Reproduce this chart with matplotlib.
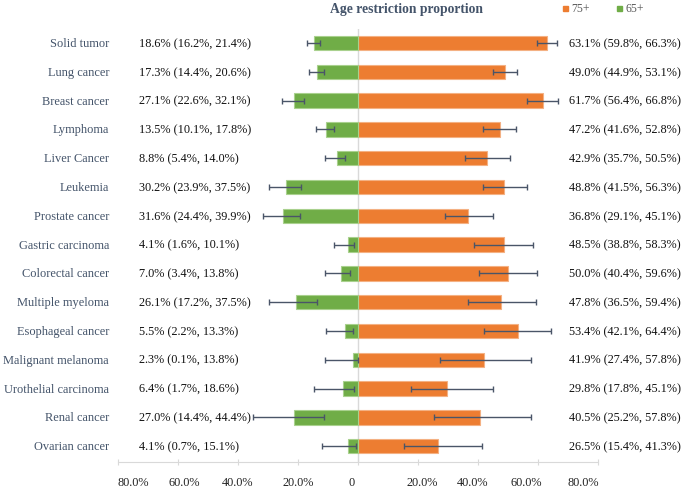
import numpy as np
import matplotlib
matplotlib.use('Agg')
import matplotlib.pyplot as plt
import matplotlib.transforms as mtransforms
from matplotlib.patches import Rectangle

plt.rcParams['font.family'] = ['Liberation Serif', 'DejaVu Serif']

# Data
cancers = ['Solid tumor', 'Lung cancer', 'Breast cancer', 'Lymphoma', 'Liver Cancer',
           'Leukemia', 'Prostate cancer', 'Gastric carcinoma', 'Colorectal cancer',
           'Multiple myeloma', 'Esophageal cancer', 'Malignant melanoma',
           'Urothelial carcinoma', 'Renal cancer', 'Ovarian cancer']

age65 = np.array([18.6, 17.3, 27.1, 13.5, 8.8, 30.2, 31.6, 4.1, 7.0, 26.1, 5.5, 2.3, 6.4, 27.0, 4.1])
age65_lo = np.array([16.2, 14.4, 22.6, 10.1, 5.4, 23.9, 24.4, 1.6, 3.4, 17.2, 2.2, 0.1, 1.7, 14.4, 0.7])
age65_hi = np.array([21.4, 20.6, 32.1, 17.8, 14.0, 37.5, 39.9, 10.1, 13.8, 37.5, 13.3, 13.8, 18.6, 44.4, 15.1])

age75 = np.array([63.1, 49.0, 61.7, 47.2, 42.9, 48.8, 36.8, 48.5, 50.0, 47.8, 53.4, 41.9, 29.8, 40.5, 26.5])
age75_lo = np.array([59.8, 44.9, 56.4, 41.6, 35.7, 41.5, 29.1, 38.8, 40.4, 36.5, 42.1, 27.4, 17.8, 25.2, 15.4])
age75_hi = np.array([66.3, 53.1, 66.8, 52.8, 50.5, 56.3, 45.1, 58.3, 59.6, 59.4, 64.4, 57.8, 45.1, 57.8, 41.3])

tick_vals = [-80, -60, -40, -20, 0, 20, 40, 60, 80]
tick_labels = ['80.0%', '60.0%', '40.0%', '20.0%', '0', '20.0%', '40.0%', '60.0%', '80.0%']

ORANGE = '#ED7D31'
GREEN = '#70AD47'
SLATE = '#44546A'
ERR = '#4A5568'

fig = plt.figure(figsize=(6.85, 4.89), dpi=100)
ax = fig.add_axes([100 / 685, 1 - 463 / 489, 530 / 685, (463 - 30) / 489])
ax.set_xlim((100 - 358) / 3, (630 - 358) / 3)
y = np.arange(len(cancers))
ax.set_ylim(14.55, -0.49)

# 75+ bars on the right
ax.axvline(0, color='#D9D9D9', lw=1, zorder=1)
ax.barh(y, age75, height=0.5, color=ORANGE, edgecolor='#F4B183', linewidth=0.8, zorder=2)
ax.errorbar(age75, y, xerr=[age75 - age75_lo, age75_hi - age75], fmt='none',
            ecolor=ERR, elinewidth=1, capsize=2, capthick=1, zorder=3)

# 65+ bars on the left (drawn on their own, compressed scale like the original)
ax2 = ax.twiny()
x0, x1 = ax.get_xlim()
ax2.set_xlim(x0 / 0.79, x1 / 0.79)
ax2.axis('off')
ax2.barh(y, -age65, height=0.5, color=GREEN, edgecolor='#A9D18E', linewidth=0.8, zorder=2)
ax2.errorbar(-age65, y, xerr=[age65_hi - age65, age65 - age65_lo], fmt='none',
             ecolor=ERR, elinewidth=1, capsize=2, capthick=1, zorder=3)

# axis styling
for s in ['top', 'left', 'right']:
    ax.spines[s].set_visible(False)
ax.spines['bottom'].set_bounds(-80, 80)
ax.spines['bottom'].set_color('#D9D9D9')
ax.set_xticks(tick_vals)
ax.tick_params(axis='x', direction='inout', length=5, color='#D9D9D9', labelbottom=False)
ax.set_yticks([])

# tick labels sit a little off their ticks in the original
label_x = [-75, -58, -40, -20, -2, 21.3, 38.3, 56, 75]
tr_tick = mtransforms.blended_transform_factory(ax.transData, fig.transFigure)
for lx, lab in zip(label_x, tick_labels):
    ax.text(lx, 1 - 483 / 489, lab, transform=tr_tick, ha='center', va='center',
            fontsize=8.8, color='#222222')

# row labels
tr_row = mtransforms.blended_transform_factory(fig.transFigure, ax.transData)
for i, name in enumerate(cancers):
    ax.text(109 / 685, i, name, transform=tr_row, ha='right', va='center',
            fontsize=8.9, color=SLATE)
    ax.text(139 / 685, i, f'{age65[i]:.1f}% ({age65_lo[i]:.1f}%, {age65_hi[i]:.1f}%)',
            transform=tr_row, ha='left', va='center', fontsize=8.8, color='#111111')
    ax.text(569 / 685, i, f'{age75[i]:.1f}% ({age75_lo[i]:.1f}%, {age75_hi[i]:.1f}%)',
            transform=tr_row, ha='left', va='center', fontsize=8.8, color='#111111')

# title and legend
fig.text(406 / 685, 1 - 9 / 489, 'Age restriction proportion', ha='center', va='center',
         fontsize=9.8, fontweight='bold', color=SLATE)
for xs, col, lab in [(563, ORANGE, '75+'), (617, GREEN, '65+')]:
    fig.add_artist(Rectangle((xs / 685, 1 - 12 / 489), 5 / 685, 5 / 489,
                             transform=fig.transFigure, color=col))
    fig.text((xs + 8) / 685, 1 - 9.5 / 489, lab, ha='left', va='center',
             fontsize=8.5, color='#595959')

fig.savefig('out.png', dpi=100)
